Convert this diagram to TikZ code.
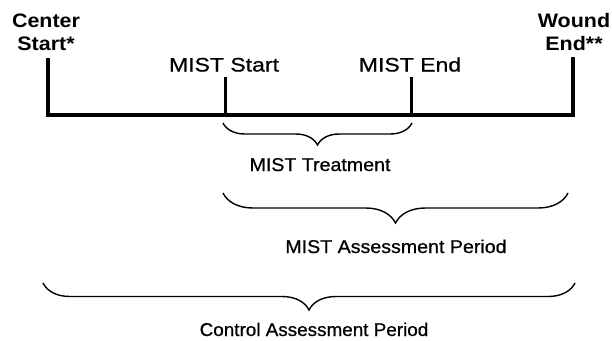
\documentclass[tikz,border=0pt]{standalone}
\usepackage{fontspec}
\setmainfont{Liberation Sans}
\newfontfamily\scanfont[FakeBold=0.6]{Liberation Sans}
\usetikzlibrary{decorations.pathreplacing}
\newcommand{\wideby}[2]{\scalebox{#1}[1]{#2}}
\tikzset{
  timeline/.style={line width=3.5pt, line cap=butt, line join=miter},
  tickline/.style={line width=3pt, line cap=butt},
  bracepath/.style={line width=1.4pt, decorate, decoration={brace, mirror, amplitude=#1}},
  endlabel/.style={inner sep=0pt, anchor=base, font=\fontsize{19.5}{23}\selectfont\bfseries},
  toplabel/.style={inner sep=0pt, anchor=base, font=\fontsize{19.5}{22}\selectfont\scanfont},
  periodlabel/.style={inner sep=0pt, anchor=base, font=\fontsize{18.5}{21}\selectfont\scanfont}
}
\begin{document}
\begin{tikzpicture}[x=1pt,y=-1pt]
\useasboundingbox[fill=white] (0,0) rectangle (612,340);
% timeline points
\coordinate (L) at (48,115);
\coordinate (Ltop) at (48,58);
\coordinate (MS) at (225,115);
\coordinate (MStop) at (225,77);
\coordinate (ME) at (411,115);
\coordinate (MEtop) at (411,77);
\coordinate (R) at (573,115);
\coordinate (Rtop) at (573,57);
\draw[timeline] (Ltop) -- (L) -- (R) -- (Rtop);
\draw[tickline] (MStop) -- (MS);
\draw[tickline] (MEtop) -- (ME);
% end labels
\node[endlabel] (center) at (46,50) {\wideby{1.1}{\begin{tabular}[b]{@{}c@{}}Center\\Start*\end{tabular}}};
\node[endlabel] (wound) at (574,50) {\wideby{1.1}{\begin{tabular}[b]{@{}c@{}}Wound\\End**\end{tabular}}};
% tick labels
\node[toplabel] (mststart) at (224,71.5) {\wideby{1.18}{MIST Start}};
\node[toplabel] (mstend) at (410,71.5) {\wideby{1.18}{MIST End}};
% braces
\coordinate (b1a) at (223,123);
\coordinate (b1b) at (412,123);
\draw[bracepath=22pt] (b1a) -- (b1b);
\node[periodlabel] (treat) at (320,171) {\wideby{1.06}{MIST Treatment}};
\coordinate (b2a) at (223,193);
\coordinate (b2b) at (568,193);
\draw[bracepath=30pt] (b2a) -- (b2b);
\node[periodlabel] (mistassess) at (396,253) {\wideby{1.06}{MIST Assessment Period}};
\coordinate (b3a) at (43,283);
\coordinate (b3b) at (575,283);
\draw[bracepath=27pt] (b3a) -- (b3b);
\node[periodlabel] (ctrlassess) at (314,336) {\wideby{1.02}{Control Assessment Period}};
\end{tikzpicture}
\end{document}
